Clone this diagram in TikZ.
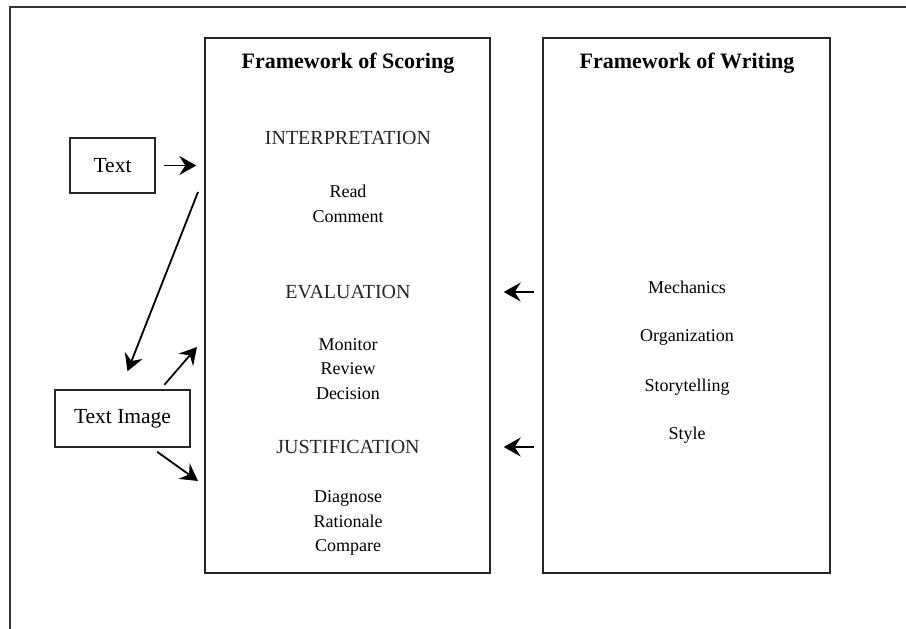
\documentclass[tikz,border=0pt]{standalone}
\usepackage{fontspec}
\setmainfont{Liberation Serif}
\usetikzlibrary{arrows.meta}

\tikzset{
    frame/.style={draw=black!85, line width=1.4pt, inner sep=0pt},
    srcbox/.style={draw=black!85, line width=1.4pt, inner sep=0pt,
        font=\fontsize{21.5}{24}\selectfont},
    title/.style={font=\fontsize{22}{26}\bfseries\selectfont},
    stage/.style={font=\fontsize{20}{24}\selectfont, text=black!85},
    item/.style={font=\fontsize{18}{24.5}\selectfont, align=center},
    arr/.style={-{Stealth[length=17pt, width=19pt, inset=6pt]}, line width=1.8pt}
}

\begin{document}
\begin{tikzpicture}[x=1pt, y=-1pt]
\useasboundingbox (0,0) rectangle (906,629);

% outer page frame (top and left only)
\draw[line width=1.2pt, black!80] (906,7) -- (10,7) -- (10,629);

% the two frameworks
\node[frame, minimum width=285pt, minimum height=535pt] (scoring) at (347.5,305.5) {};
\node[frame, minimum width=287pt, minimum height=535pt] (writing) at (686.5,305.5) {};

\node[title] (scoringtitle) at (348,63) {Framework of Scoring};
\node[title] (writingtitle) at (687,63) {Framework of Writing};

% stages of scoring
\node[stage] (interp) at (348,138) {INTERPRETATION};
\node[item] (interpitems) at (348,204) {Read\\Comment};
\node[stage] (eval) at (348,292) {EVALUATION};
\node[item] (evalitems) at (348,369) {Monitor\\Review\\Decision};
\node[stage] (justif) at (348,447) {JUSTIFICATION};
\node[item] (justifitems) at (348,523) {Diagnose\\Rationale\\Compare};

% aspects of writing
\node[item] (mech) at (687,287) {Mechanics};
\node[item] (organ) at (687,337) {Organization};
\node[item] (story) at (687,387) {Storytelling};
\node[item] (style) at (687,435) {Style};

% the sources
\node[srcbox, minimum width=85pt, minimum height=55pt] (text) at (112.5,165.5) {Text};
\node[srcbox, minimum width=135pt, minimum height=57pt] (textimage) at (122.5,418.5) {Text Image};

% free ends of the arrows at the scoring frame
\coordinate (intop) at (198,192);
\coordinate (inup) at (197,347);
\coordinate (indown) at (198,481);

\draw[arr, shorten <=8pt, shorten >=8pt] (text.east) -- (text.east -| scoring.west);
\draw[arr] (intop) -- ([xshift=5pt, yshift=18pt]textimage.north);
\draw[arr, shorten <=6pt] ([xshift=38pt]textimage.north) -- (inup);
\draw[arr, shorten <=7pt] ([xshift=29pt]textimage.south) -- (indown);

\draw[arr, shorten <=8pt, shorten >=13pt] (writing.west |- eval) -- (scoring.east |- eval);
\draw[arr, shorten <=8pt, shorten >=13pt] (writing.west |- justif) -- (scoring.east |- justif);

\end{tikzpicture}
\end{document}
